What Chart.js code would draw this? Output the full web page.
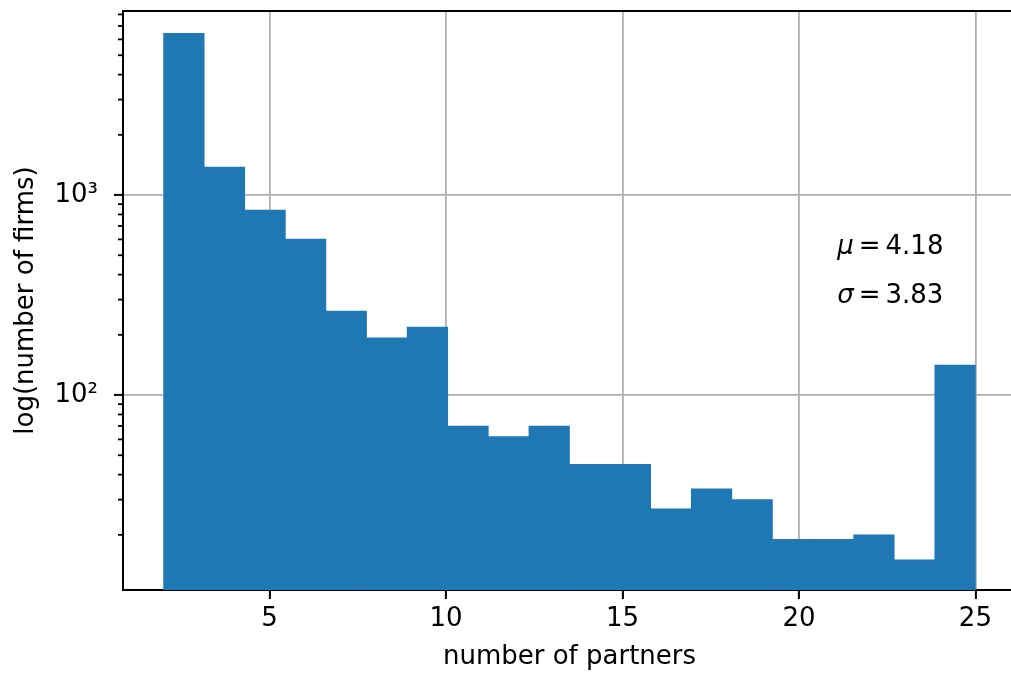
<!DOCTYPE html>
<html>
<head>
<meta charset="utf-8">
<script src="https://cdn.jsdelivr.net/npm/chart.js@4.4.1/dist/chart.umd.min.js"></script>
<style>
  html, body { margin: 0; padding: 0; background: #fff; overflow: hidden; }
  canvas { display: block; }
</style>
</head>
<body>
<canvas id="histChart" width="1030" height="676"></canvas>
<script>
// histogram of partners per firm: 20 equal bins between 2 and 25
const binStart = 2;
const binEnd = 25;
const firmCounts = [6440, 1380, 840, 603, 263, 193, 219, 70, 62, 70, 45, 45, 27, 34, 30, 19, 19, 20, 15, 141];
const xTicks = [5, 10, 15, 20, 25];
const yMajorTicks = [100, 1000];
const yMinorTicks = [20, 30, 40, 50, 60, 70, 80, 90, 200, 300, 400, 500, 600, 700, 800, 900,
  2000, 3000, 4000, 5000, 6000, 7000, 8000];
const statSymbols = ['\u03bc', '\u03c3'];
const statValues = ['4.18', '3.83'];

const FONT = 'DejaVu Sans';
const binWidth = (binEnd - binStart) / firmCounts.length;
const bars = firmCounts.map((c, i) => ({ x: binStart + binWidth * (i + 0.5), y: c }));
const sup = { '2': '\u00b2', '3': '\u00b3' };

// top spine, short minor ticks and the mu / sigma note
const extras = {
  id: 'extras',
  afterDraw(chart) {
    const { ctx, chartArea, scales: { x, y } } = chart;
    ctx.save();
    ctx.strokeStyle = '#000';
    ctx.lineWidth = 1.8;
    yMinorTicks.forEach(v => {
      const py = y.getPixelForValue(v);
      ctx.beginPath();
      ctx.moveTo(chartArea.left - 5, py);
      ctx.lineTo(chartArea.left, py);
      ctx.stroke();
    });
    ctx.lineWidth = 2;
    ctx.beginPath();
    ctx.moveTo(chartArea.left - 1, chartArea.top);
    ctx.lineTo(chartArea.right, chartArea.top);
    ctx.stroke();

    ctx.fillStyle = '#000';
    ctx.textBaseline = 'alphabetic';
    const noteY = [510, 288];
    statSymbols.forEach((s, i) => {
      let px = x.getPixelForValue(21) + 3;
      const py = y.getPixelForValue(noteY[i]);
      ctx.font = 'italic 26px "' + FONT + '"';
      ctx.fillText(s, px, py);
      px += ctx.measureText(s).width + 5;
      ctx.font = '26px "' + FONT + '"';
      ctx.fillText('=', px, py);
      px += ctx.measureText('=').width + 5;
      ctx.fillText(statValues[i], px, py);
    });
    ctx.restore();
  }
};

new Chart(document.getElementById('histChart'), {
  type: 'bar',
  data: {
    datasets: [{
      data: bars,
      backgroundColor: '#1f77b4',
      borderWidth: 0,
      barPercentage: 1,
      categoryPercentage: 1
    }]
  },
  options: {
    responsive: false,
    animation: false,
    layout: { padding: { top: 11, right: 14, left: 0, bottom: 0 } },
    plugins: {
      legend: { display: false },
      tooltip: { enabled: false }
    },
    scales: {
      x: {
        type: 'linear',
        offset: false,
        min: 0.85,
        max: 26.15,
        z: 1,
        afterBuildTicks: s => { s.ticks = xTicks.map(v => ({ value: v })); },
        afterFit: s => { s.height = 86; },
        grid: {
          offset: false,
          color: '#b0b0b0',
          lineWidth: 1.8,
          tickColor: '#000',
          tickWidth: 2,
          tickLength: 9
        },
        border: { color: '#000', width: 2 },
        ticks: {
          color: '#000',
          font: { family: FONT, size: 26 },
          padding: 5,
          maxRotation: 0,
          autoSkip: false
        },
        title: {
          display: true,
          text: 'number of partners',
          color: '#000',
          font: { family: FONT, size: 26 },
          padding: { top: 0, bottom: 3 }
        }
      },
      y: {
        type: 'logarithmic',
        min: 10.6,
        max: 8320,
        z: 1,
        afterBuildTicks: s => { s.ticks = yMajorTicks.map(v => ({ value: v })); },
        afterFit: s => { s.width = 123; s.paddingTop = 0; s.paddingBottom = 0; },
        grid: {
          color: '#b0b0b0',
          lineWidth: 1.8,
          tickColor: '#000',
          tickWidth: 2,
          tickLength: 9
        },
        border: { color: '#000', width: 2 },
        ticks: {
          color: '#000',
          font: { family: FONT, size: 26 },
          padding: 16,
          autoSkip: false,
          callback: v => '10' + String(Math.round(Math.log10(v))).split('').map(d => sup[d] || d).join('')
        },
        title: {
          display: true,
          text: 'log(number of firms)',
          color: '#000',
          font: { family: FONT, size: 26 },
          padding: { top: 11, bottom: 0 }
        }
      }
    }
  },
  plugins: [extras]
});
</script>
</body>
</html>
